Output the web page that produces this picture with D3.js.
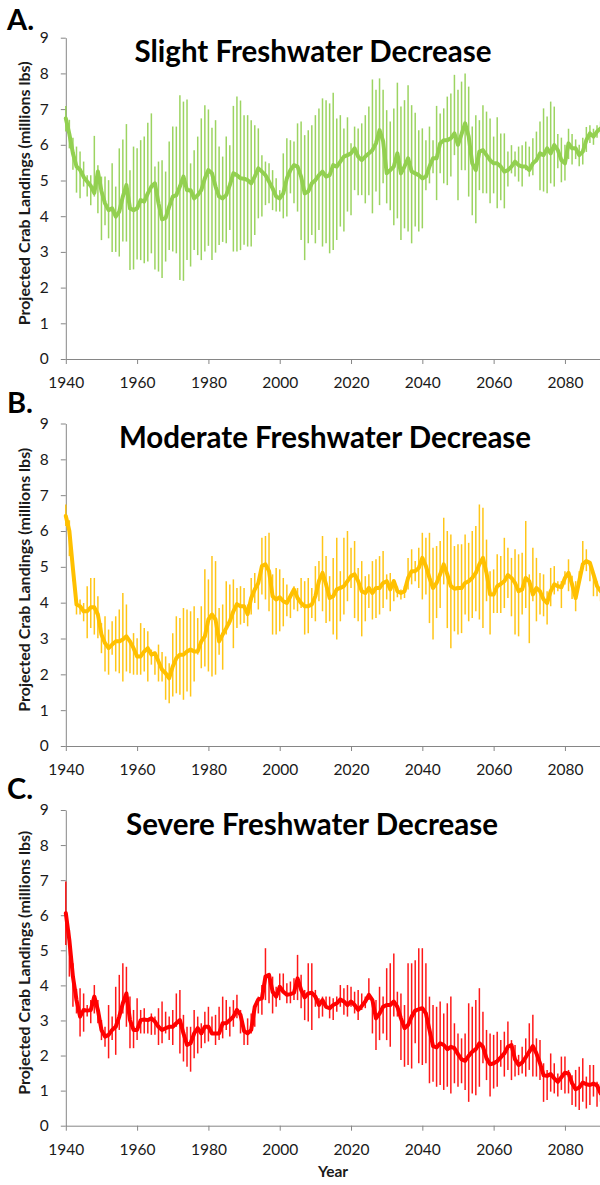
<!DOCTYPE html>
<html lang="en">
<head>
<meta charset="UTF-8">
<title>Projected Crab Landings</title>
<style>
  body { margin: 0; background: #ffffff; }
  svg { display: block; font-family: Lato, "Open Sans", sans-serif; }
</style>
</head>
<body>
<svg id="chart" width="600" height="1185"></svg>
<script src="https://d3js.org/d3.v7.min.js"></script>
<script>
// one value per year, 1940..2090
const years = d3.range(1940, 2091);
const yearTicks = [1940, 1960, 1980, 2000, 2020, 2040, 2060, 2080];
const valueTicks = [0, 1, 2, 3, 4, 5, 6, 7, 8, 9];

const slightMean = [6.74, 6.3, 5.76, 5.39, 5.3, 5.1, 4.97, 4.85, 4.65, 5.25,
  4.7, 4.36, 4.17, 4.22, 3.99, 4.13, 4.55, 4.87, 4.22, 4.17,
  4.22, 4.45, 4.41, 4.64, 4.83, 4.92, 4.36, 3.91, 3.95, 4.27,
  4.55, 4.59, 4.83, 5.11, 4.73, 4.73, 4.5, 4.59, 4.73, 5.06,
  5.29, 5.2, 4.83, 4.55, 4.5, 4.59, 4.87, 5.2, 5.15, 5.06,
  5.05, 5.01, 4.92, 5.11, 5.34, 5.25, 5.15, 4.97, 4.78, 4.55,
  4.5, 4.64, 5.06, 5.29, 5.43, 5.39, 5.11, 4.64, 4.69, 4.92,
  5.01, 5.15, 5.25, 5.11, 5.15, 5.43, 5.39, 5.53, 5.67, 5.71,
  5.76, 5.9, 5.67, 5.57, 5.67, 5.76, 5.85, 6.04, 6.41, 6.1,
  5.2, 5.29, 5.39, 5.76, 5.2, 5.39, 5.62, 5.25, 5.2, 5.15,
  5.06, 5.11, 5.39, 5.62, 5.62, 6.04, 6.13, 6.13, 6.18, 6.32,
  6.0, 6.3, 6.6, 6.23, 5.48, 5.29, 5.81, 5.85, 5.71, 5.57,
  5.48, 5.48, 5.39, 5.25, 5.29, 5.39, 5.53, 5.43, 5.39, 5.39,
  5.29, 5.48, 5.57, 5.76, 5.71, 5.9, 5.76, 5.99, 5.85, 5.57,
  5.48, 6.04, 5.9, 5.9, 5.71, 5.81, 6.13, 6.32, 6.23, 6.37,
  6.46];
const slightHi = [7.09, 6.7, 6.2, 5.95, 5.81, 5.53, 5.15, 5.15, 6.25, 5.43,
  5.11, 5.11, 5.01, 5.48, 4.83, 5.9, 6.15, 6.58, 5.29, 5.95,
  5.9, 6.13, 6.23, 6.62, 6.88, 5.39, 5.53, 5.57, 5.25, 6.09,
  6.51, 6.51, 7.39, 7.21, 7.27, 5.48, 5.85, 6.23, 6.74, 7.11,
  6.99, 6.48, 6.69, 5.95, 5.67, 6.23, 5.99, 7.09, 7.35, 7.24,
  6.83, 6.83, 6.69, 6.55, 6.46, 5.71, 5.53, 5.48, 5.29, 5.06,
  4.73, 5.76, 6.18, 6.13, 6.09, 6.6, 6.65, 6.27, 6.41, 6.55,
  6.83, 7.02, 7.3, 7.25, 7.16, 7.46, 6.74, 6.83, 6.46, 6.77,
  6.04, 6.51, 6.46, 6.6, 6.83, 7.07, 7.83, 7.54, 7.86, 7.54,
  6.97, 6.65, 7.02, 7.74, 7.07, 7.25, 7.67, 7.11, 6.9, 6.41,
  6.46, 6.13, 6.51, 6.13, 7.09, 6.88, 7.02, 7.35, 7.44, 7.96,
  7.54, 7.77, 8.0, 7.63, 6.51, 6.83, 6.69, 7.11, 6.93, 6.74,
  6.23, 6.77, 6.32, 6.32, 5.81, 5.99, 5.81, 5.95, 5.99, 6.09,
  5.95, 6.18, 6.37, 6.65, 7.02, 6.79, 7.21, 7.07, 6.3, 6.2,
  6.0, 6.45, 6.3, 6.15, 6.0, 6.2, 6.5, 6.55, 6.45, 6.55,
  6.65];
const slightLo = [6.37, 5.9, 5.3, 4.66, 4.5, 4.83, 4.55, 4.31, 4.55, 4.08,
  3.33, 3.75, 3.38, 3.0, 3.0, 2.87, 3.29, 3.29, 2.49, 2.51,
  2.79, 2.77, 2.68, 2.73, 2.96, 2.51, 2.45, 2.27, 2.73, 3.05,
  3.01, 2.96, 2.21, 2.19, 2.77, 2.59, 3.05, 2.91, 2.77, 3.01,
  3.17, 2.77, 2.98, 3.19, 3.28, 3.24, 3.61, 3.01, 3.01, 3.05,
  3.2, 3.15, 3.15, 3.47, 3.94, 3.99, 4.31, 4.36, 4.17, 4.13,
  4.13, 3.94, 3.99, 4.64, 4.36, 4.13, 3.33, 2.77, 3.24, 3.47,
  3.24, 3.61, 3.15, 3.24, 2.96, 3.05, 3.33, 3.71, 3.57, 4.13,
  4.03, 4.73, 4.59, 4.59, 4.36, 4.59, 4.08, 4.69, 4.31, 4.92,
  4.36, 4.17, 3.75, 3.94, 3.33, 3.66, 3.57, 3.24, 3.71, 3.57,
  3.66, 4.73, 4.92, 5.2, 4.45, 5.2, 4.92, 4.87, 5.11, 5.71,
  4.45, 5.29, 5.29, 4.55, 4.03, 3.8, 4.73, 4.64, 4.64, 4.36,
  4.64, 4.22, 4.45, 4.22, 4.83, 5.2, 5.11, 4.97, 4.83, 5.29,
  5.11, 5.15, 5.57, 4.73, 4.69, 4.64, 4.92, 4.83, 5.34, 4.95,
  5.0, 5.6, 5.45, 5.6, 5.4, 5.45, 5.8, 6.05, 6.0, 6.2,
  6.3];

const moderateMean = [6.42, 6.0, 4.95, 3.95, 3.9, 3.76, 3.76, 3.87, 3.87, 3.67,
  3.11, 2.87, 2.73, 2.83, 2.92, 2.92, 2.97, 3.06, 2.92, 2.73,
  2.5, 2.5, 2.64, 2.73, 2.55, 2.59, 2.36, 2.13, 2.03, 1.89,
  2.22, 2.45, 2.55, 2.55, 2.64, 2.69, 2.64, 2.64, 2.92, 3.06,
  3.53, 3.67, 3.53, 2.92, 3.11, 3.29, 3.48, 3.76, 3.96, 3.9,
  3.9, 3.68, 4.13, 4.37, 4.55, 5.02, 5.07, 4.88, 4.18, 4.09,
  4.15, 4.04, 3.99, 4.18, 4.37, 4.13, 3.99, 3.9, 3.9, 3.95,
  4.18, 4.6, 4.83, 4.51, 4.13, 4.18, 4.37, 4.41, 4.46, 4.6,
  4.74, 4.79, 4.6, 4.32, 4.27, 4.41, 4.27, 4.41, 4.41, 4.55,
  4.6, 4.37, 4.6, 4.32, 4.27, 4.32, 4.69, 4.88, 4.88, 4.97,
  5.25, 5.02, 4.69, 4.41, 4.55, 4.79, 5.07, 4.79, 4.46, 4.39,
  4.41, 4.41, 4.55, 4.6, 4.69, 4.83, 5.07, 5.25, 4.83, 4.23,
  4.23, 4.46, 4.52, 4.6, 4.77, 4.69, 4.55, 4.32, 4.37, 4.69,
  4.6, 4.23, 4.41, 4.32, 4.09, 3.99, 4.32, 4.51, 4.46, 4.43,
  4.69, 4.83, 4.51, 4.13, 4.6, 5.07, 5.16, 5.11, 4.79, 4.46,
  4.32];
const moderateHi = [6.74, 6.3, 5.2, 4.09, 4.09, 3.99, 4.46, 4.69, 4.69, 4.18,
  3.43, 3.62, 3.25, 3.48, 3.62, 3.81, 4.27, 3.95, 2.92, 3.15,
  3.01, 3.43, 3.29, 3.2, 2.69, 2.59, 2.83, 2.62, 2.5, 2.31,
  3.15, 3.62, 3.57, 3.85, 3.81, 3.76, 3.9, 3.57, 3.9, 4.93,
  4.65, 5.3, 5.16, 3.85, 3.95, 4.6, 4.51, 4.65, 4.41, 4.46,
  4.41, 3.95, 4.69, 4.83, 4.65, 5.81, 5.86, 5.95, 4.79, 4.97,
  4.93, 4.69, 4.51, 4.23, 4.46, 4.41, 4.69, 4.6, 4.69, 4.41,
  5.02, 5.16, 5.86, 5.3, 4.74, 5.25, 5.81, 4.88, 5.81, 6.0,
  5.53, 5.72, 4.97, 5.16, 4.74, 4.79, 5.16, 5.21, 5.3, 5.44,
  4.79, 4.83, 4.65, 4.45, 4.37, 4.46, 5.25, 5.49, 5.16, 5.53,
  5.95, 5.81, 5.95, 5.53, 5.58, 5.72, 6.37, 6.0, 5.9, 5.58,
  5.63, 5.63, 5.9, 5.67, 6.0, 6.14, 6.74, 6.65, 5.76, 4.88,
  4.93, 5.35, 5.3, 5.81, 5.53, 5.25, 5.49, 5.35, 5.39, 6.28,
  4.79, 5.53, 5.25, 4.83, 4.79, 4.32, 4.97, 5.02, 4.6, 4.6,
  4.88, 5.21, 4.75, 4.6, 4.88, 5.72, 5.49, 5.16, 4.79, 4.6,
  4.41];
const moderateLo = [6.14, 5.3, 4.6, 3.67, 3.67, 3.48, 3.01, 3.29, 3.11, 3.01,
  2.59, 2.08, 1.99, 2.55, 2.08, 2.03, 1.8, 2.08, 2.03, 1.99,
  1.99, 1.99, 2.08, 1.8, 2.27, 1.99, 1.8, 1.8, 1.29, 1.19,
  1.38, 1.47, 1.43, 1.29, 1.52, 1.38, 1.8, 2.55, 2.17, 2.22,
  2.08, 1.94, 1.99, 2.55, 2.13, 3.11, 3.39, 2.73, 3.29, 3.39,
  3.43, 3.34, 3.67, 3.99, 3.81, 4.23, 4.09, 3.76, 3.11, 3.11,
  3.2, 3.34, 3.62, 3.57, 3.81, 3.76, 3.85, 3.11, 3.15, 3.57,
  3.48, 4.04, 3.76, 3.43, 3.48, 3.11, 2.97, 3.48, 3.67, 4.04,
  4.41, 3.57, 3.48, 3.06, 3.48, 3.85, 3.53, 3.57, 3.67, 3.85,
  4.09, 3.76, 4.04, 4.15, 4.09, 4.13, 4.37, 4.51, 4.6, 4.41,
  4.09, 4.23, 3.43, 2.97, 3.57, 3.85, 4.51, 3.29, 2.73, 3.2,
  3.11, 3.15, 3.67, 3.48, 3.57, 3.76, 3.53, 3.29, 4.04, 3.11,
  3.71, 3.71, 3.71, 3.85, 4.13, 3.62, 3.11, 3.06, 3.67, 3.85,
  2.87, 4.04, 3.48, 3.67, 3.62, 3.39, 3.9, 4.23, 4.32, 3.85,
  4.51, 4.32, 4.1, 3.76, 4.51, 4.93, 4.88, 4.6, 4.18, 4.18,
  4.04];

const severeMean = [6.06, 5.29, 4.25, 3.58, 3.11, 3.3, 3.28, 3.3, 3.68, 3.3,
  2.73, 2.54, 2.59, 2.73, 2.82, 3.11, 3.49, 3.77, 3.01, 2.73,
  2.73, 3.01, 3.03, 3.01, 3.06, 2.97, 2.82, 2.73, 2.78, 2.82,
  2.82, 2.92, 3.01, 2.63, 2.3, 2.35, 2.63, 2.78, 2.63, 2.82,
  2.82, 2.63, 2.63, 2.63, 2.92, 2.92, 3.01, 3.11, 3.3, 3.16,
  2.7, 2.63, 2.73, 3.39, 3.6, 3.63, 4.25, 4.3, 3.82, 3.68,
  3.96, 3.82, 3.73, 3.75, 3.79, 4.2, 3.87, 3.66, 3.77, 3.79,
  3.68, 3.44, 3.58, 3.39, 3.35, 3.44, 3.49, 3.6, 3.54, 3.44,
  3.54, 3.44, 3.3, 3.41, 3.54, 3.73, 3.58, 3.06, 3.2, 3.39,
  3.44, 3.44, 3.54, 3.39, 3.06, 2.78, 2.87, 3.11, 3.28, 3.32,
  3.35, 3.2, 2.73, 2.27, 2.23, 2.35, 2.3, 2.18, 2.25, 2.21,
  2.04, 1.89, 1.85, 1.99, 2.11, 2.18, 2.35, 2.25, 1.92, 1.75,
  1.78, 1.84, 1.95, 2.06, 2.25, 2.3, 1.89, 1.73, 1.8, 1.95,
  2.11, 2.27, 2.06, 1.78, 1.44, 1.42, 1.47, 1.35, 1.25, 1.38,
  1.51, 1.49, 1.21, 1.04, 1.09, 1.23, 1.18, 1.16, 1.2, 1.15,
  0.92];
const severeHi = [6.96, 5.58, 4.63, 3.9, 3.92, 3.77, 3.44, 3.58, 4.01, 3.58,
  3.01, 2.82, 3.44, 3.11, 3.96, 4.3, 4.63, 4.53, 3.68, 3.3,
  3.63, 3.3, 3.35, 3.01, 3.2, 3.11, 3.35, 3.54, 3.25, 3.11,
  3.3, 3.77, 3.87, 3.16, 2.82, 2.82, 3.3, 3.11, 2.92, 3.25,
  3.39, 3.11, 3.16, 3.39, 3.68, 3.58, 3.39, 3.58, 3.73, 3.3,
  2.73, 3.06, 3.2, 3.39, 3.68, 4.01, 5.06, 4.15, 4.25, 3.96,
  4.34, 4.34, 4.06, 4.11, 4.2, 4.87, 4.3, 3.87, 4.63, 4.63,
  3.87, 3.63, 3.68, 3.68, 3.68, 3.63, 3.68, 4.01, 3.92, 4.01,
  3.96, 3.82, 3.87, 3.77, 3.68, 4.2, 3.58, 3.58, 3.96, 3.68,
  4.49, 4.63, 4.91, 3.82, 3.77, 3.44, 4.63, 4.63, 4.72, 5.06,
  5.06, 4.63, 3.68, 3.44, 3.39, 3.54, 3.2, 3.49, 3.68, 2.92,
  2.63, 2.49, 2.63, 3.49, 3.39, 3.58, 3.92, 3.25, 2.73, 2.63,
  2.59, 2.68, 2.44, 2.68, 2.97, 2.44, 2.3, 2.02, 2.25, 2.49,
  2.92, 3.16, 2.49, 2.44, 1.78, 1.59, 2.06, 1.78, 1.49, 1.97,
  1.97, 1.59, 1.44, 1.59, 1.68, 1.92, 1.4, 1.73, 1.73, 1.25,
  1.21];
const severeLo = [5.15, 4.25, 3.39, 3.2, 2.54, 2.68, 3.11, 2.92, 3.2, 2.92,
  2.44, 2.25, 1.92, 2.44, 2.02, 2.73, 3.2, 2.82, 2.21, 2.21,
  2.44, 2.63, 2.63, 2.63, 2.59, 2.59, 2.3, 2.35, 2.63, 2.44,
  2.3, 2.82, 2.06, 1.83, 1.68, 1.54, 1.92, 2.06, 2.21, 2.35,
  2.4, 2.63, 2.3, 2.44, 2.49, 2.73, 2.54, 2.82, 3.06, 2.63,
  2.3, 2.3, 2.63, 2.82, 3.2, 3.16, 3.58, 3.49, 3.2, 3.39,
  3.58, 3.82, 3.49, 3.49, 3.58, 3.58, 3.35, 3.01, 2.97, 2.73,
  3.39, 3.06, 3.11, 3.39, 3.06, 3.01, 3.25, 3.39, 3.16, 3.11,
  3.39, 3.2, 3.01, 3.3, 3.35, 3.58, 2.63, 2.16, 2.44, 2.63,
  2.44, 2.25, 3.11, 3.11, 1.87, 1.68, 1.73, 1.63, 2.35, 1.78,
  1.73, 1.78, 1.21, 1.25, 1.11, 1.16, 1.02, 1.11, 0.92, 1.21,
  1.11, 1.21, 1.02, 0.68, 0.92, 0.87, 1.11, 1.78, 1.3, 0.83,
  1.06, 1.11, 1.68, 1.4, 1.59, 1.3, 1.4, 1.44, 1.49, 1.4,
  1.59, 1.4, 1.4, 1.3, 0.68, 0.73, 0.97, 0.92, 0.83, 1.02,
  0.92, 0.92, 0.59, 0.54, 0.45, 0.68, 0.49, 0.59, 0.83, 0.54,
  0.68];

const panels = [
  { letter: "A.", title: "Slight Freshwater Decrease", color: "#92d050",
    mean: slightMean, hi: slightHi, lo: slightLo,
    top: 37.7, bottom: 359, letterY: 30, titleX: 313, titleY: 62 },
  { letter: "B.", title: "Moderate Freshwater Decrease", color: "#ffc000",
    mean: moderateMean, hi: moderateHi, lo: moderateLo,
    top: 423.5, bottom: 746, letterY: 413, titleX: 325, titleY: 448 },
  { letter: "C.", title: "Severe Freshwater Decrease", color: "#ff0000",
    mean: severeMean, hi: severeHi, lo: severeLo,
    top: 810, bottom: 1125.7, letterY: 799, titleX: 312, titleY: 835 }
];

const svg = d3.select("#chart");
const axisColor = "#868686";
const textColor = "#1a1a1a";

const x = d3.scaleLinear()
  .domain([1940, 2090])
  .range([65.8, 600.6]);

panels.forEach(p => {
  const y = d3.scaleLinear()
    .domain([0, 9])
    .range([p.bottom, p.top]);

  const g = svg.append("g");

  // axes
  const yAxis = g.append("g")
    .attr("transform", `translate(${x(1940)},0)`)
    .call(d3.axisLeft(y).tickValues(valueTicks).tickSize(5).tickSizeOuter(0).tickPadding(12));

  const xAxis = g.append("g")
    .attr("transform", `translate(0,${p.bottom})`)
    .call(d3.axisBottom(x).tickValues(yearTicks).tickFormat(d3.format("d"))
      .tickSize(5).tickSizeOuter(0).tickPadding(13));

  [yAxis, xAxis].forEach(a => {
    a.select(".domain").attr("stroke", axisColor);
    a.selectAll(".tick line").attr("stroke", axisColor);
    a.selectAll(".tick text")
      .attr("fill", textColor)
      .style("font-size", "15.5px")
      .style("font-family", "Lato, 'Open Sans', sans-serif");
  });

  // error bars
  g.append("g")
    .selectAll("line")
    .data(years)
    .join("line")
    .attr("x1", (d, i) => x(d))
    .attr("x2", (d, i) => x(d))
    .attr("y1", (d, i) => y(p.lo[i]))
    .attr("y2", (d, i) => y(p.hi[i]))
    .attr("stroke", p.color)
    .attr("stroke-width", 1.5)
    .attr("opacity", 0.9);

  // mean line
  const line = d3.line()
    .x((d, i) => x(d))
    .y((d, i) => y(p.mean[i]));

  g.append("path")
    .datum(years)
    .attr("d", line)
    .attr("fill", "none")
    .attr("stroke", p.color)
    .attr("stroke-width", 4)
    .attr("stroke-linejoin", "round")
    .attr("stroke-linecap", "round");

  // panel letter and title
  g.append("text")
    .attr("x", 7)
    .attr("y", p.letterY)
    .attr("font-size", 29)
    .attr("font-weight", 700)
    .attr("fill", "#000")
    .text(p.letter);

  g.append("text")
    .attr("x", p.titleX)
    .attr("y", p.titleY)
    .attr("text-anchor", "middle")
    .attr("font-size", 29.5)
    .attr("font-weight", 700)
    .attr("fill", "#000")
    .text(p.title);

  g.append("text")
    .attr("transform", `translate(30,${(p.top + p.bottom) / 2 - 5}) rotate(-90)`)
    .attr("text-anchor", "middle")
    .attr("font-size", 16)
    .attr("font-weight", 700)
    .attr("fill", textColor)
    .text("Projected Crab Landings (millions lbs)");
});

svg.append("text")
  .attr("x", 333)
  .attr("y", 1177)
  .attr("text-anchor", "middle")
  .attr("font-size", 15.5)
  .attr("font-weight", 700)
  .attr("fill", textColor)
  .text("Year");
</script>
</body>
</html>
